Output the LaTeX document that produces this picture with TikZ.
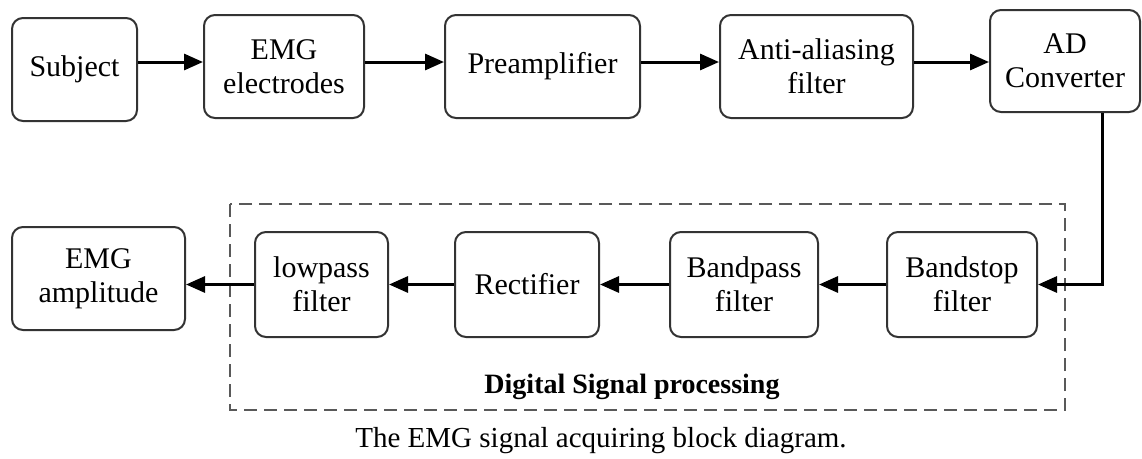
\documentclass[tikz,border=0pt]{standalone}
\usepackage{fontspec}
\setmainfont{Liberation Serif}
\usetikzlibrary{arrows.meta}
\begin{document}
\begin{tikzpicture}[x=1pt,y=-1pt,
    block/.style={draw=black!80,line width=2pt,rounded corners=11pt,
      align=center,inner sep=0pt,font=\fontsize{30}{34}\selectfont},
    arr/.style={-{Triangle[length=19pt,width=16pt]},line width=3pt}]
  \useasboundingbox (0,0) rectangle (1142,458);
  % acquisition chain
  \node[block,minimum width=125pt,minimum height=103pt] (subj) at (74.5,69.5) {Subject};
  \node[block,minimum width=160pt,minimum height=103pt] (elec) at (284,66.5) {EMG\\electrodes};
  \node[block,minimum width=195pt,minimum height=103pt] (pre) at (542.5,66.5) {Preamplifier};
  \node[block,minimum width=193pt,minimum height=103pt] (aaf) at (816.5,66.5) {Anti-aliasing\\filter};
  \node[block,minimum width=150pt,minimum height=102pt] (adc) at (1065,61) {AD\\Converter};
  % digital signal processing
  \draw[black!65,line width=1.8pt,dash pattern=on 13pt off 7pt] (230,204) rectangle (1065,410);
  \node[block,minimum width=150pt,minimum height=105pt] (bstop) at (962,284.5) {Bandstop\\filter};
  \node[block,minimum width=148pt,minimum height=105pt] (bpass) at (744,284.5) {Bandpass\\filter};
  \node[block,minimum width=144pt,minimum height=105pt] (rect) at (527,284.5) {Rectifier};
  \node[block,minimum width=133pt,minimum height=105pt] (lowp) at (321.5,284.5) {lowpass\\filter};
  \node[block,minimum width=173pt,minimum height=103pt] (amp) at (98.5,278.5) {EMG\\amplitude};
  \node[anchor=base,font=\fontsize{28}{34}\selectfont\bfseries] (dsp) at (632,393) {Digital Signal processing};
  \node[anchor=base,font=\fontsize{29}{34}\selectfont] (cap) at (601,447) {The EMG signal acquiring block diagram.};
  \begin{scope}[arr]
    \draw (subj.east |- 0,62) -- (elec.west |- 0,62);
    \draw (elec.east |- 0,62) -- (pre.west |- 0,62);
    \draw (pre.east |- 0,62) -- (aaf.west |- 0,62);
    \draw (aaf.east |- 0,62) -- (adc.west |- 0,62);
    \draw (adc.south -| 1102,0) |- (bstop.east);
    \draw (bstop) -- (bpass);
    \draw (bpass) -- (rect);
    \draw (rect) -- (lowp);
    \draw (lowp) -- (amp.east |- lowp);
  \end{scope}
\end{tikzpicture}
\end{document}
